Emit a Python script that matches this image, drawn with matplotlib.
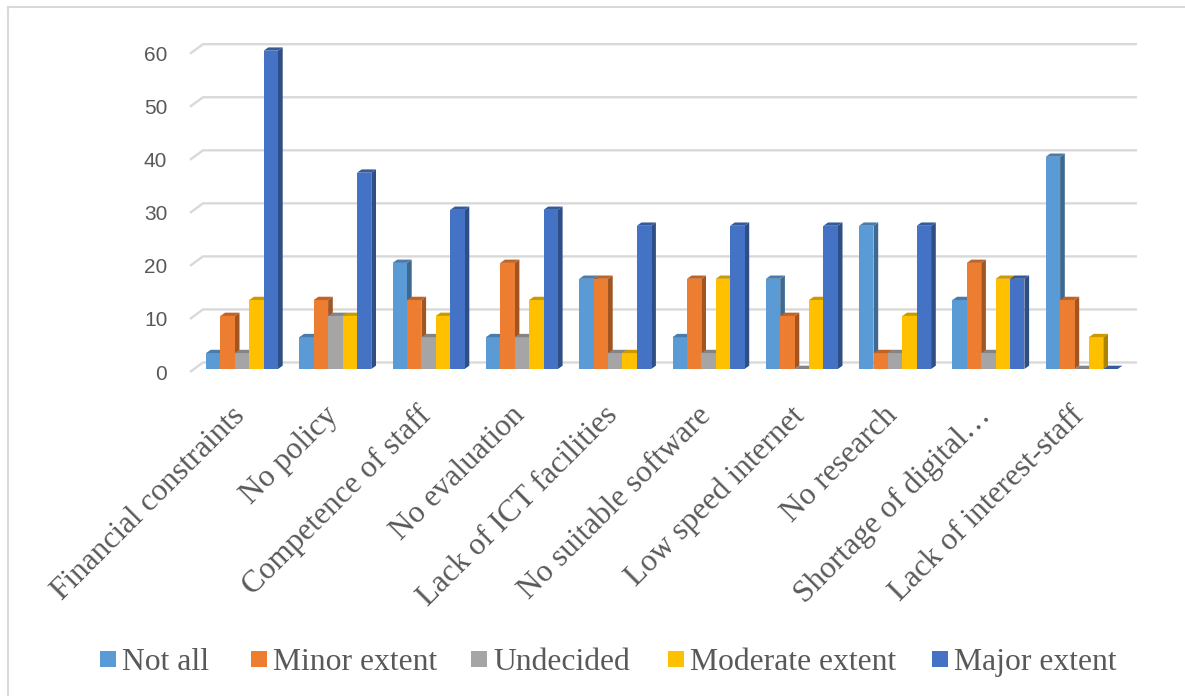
import matplotlib
matplotlib.use("Agg")
import matplotlib.pyplot as plt
from matplotlib.patches import Polygon, Rectangle
from matplotlib.lines import Line2D
from matplotlib.transforms import ScaledTranslation
import numpy as np

# ---- data -------------------------------------------------------------
categories = ["Financial constraints", "No policy", "Competence of staff",
              "No evaluation", "Lack of ICT facilities", "No suitable software",
              "Low speed internet", "No research", "Shortage of digital…",
              "Lack of interest-staff"]
series_names = ["Not all", "Minor extent", "Undecided", "Moderate extent",
                "Major extent"]
not_all = [3, 6, 20, 6, 17, 6, 17, 27, 13, 40]
minor_extent = [10, 13, 13, 20, 17, 17, 10, 3, 20, 13]
undecided = [3, 10, 6, 6, 3, 3, 0, 3, 3, 0]
moderate_extent = [13, 10, 10, 13, 3, 17, 13, 10, 17, 6]
major_extent = [60, 37, 30, 30, 27, 27, 27, 27, 17, 0]
y_ticks = [0, 10, 20, 30, 40, 50, 60]

series = [not_all, minor_extent, undecided, moderate_extent, major_extent]
colors = ["#5B9BD5", "#ED7D31", "#A5A5A5", "#FFC000", "#4472C4"]

# ---- layout (pixels) --------------------------------------------------
W, H, DPI = 1185, 696, 100
PX_CAT = 93.3        # pixels per category
PX_VAL = 5.305       # pixels per value unit
X0_PX = 242.0        # x pixel of the first category centre
Y0_PX = 369.0        # y pixel (from top) of value 0
xlim = (-0.8, 9.95)
ylim = (-5, 65)

left_px = X0_PX + xlim[0] * PX_CAT
width_px = (xlim[1] - xlim[0]) * PX_CAT
bottom_px = Y0_PX - ylim[0] * PX_VAL
top_px = Y0_PX - ylim[1] * PX_VAL

fig = plt.figure(figsize=(W / DPI, H / DPI), dpi=DPI)
fig.patch.set_facecolor("white")
ax = fig.add_axes([left_px / W, (H - bottom_px) / H,
                   width_px / W, (bottom_px - top_px) / H])
ax.set_xlim(*xlim)
ax.set_ylim(*ylim)
ax.set_facecolor("none")
for s in ax.spines.values():
    s.set_visible(False)

grid_color = "#D9D9D9"
text_color = "#595959"

# back-wall gridlines with a short slanted floor edge on the left
gx_front = (190 - X0_PX) / PX_CAT
gx_back = (203 - X0_PX) / PX_CAT
gx_right = (1137 - X0_PX) / PX_CAT
for v in y_ticks:
    ax.plot([gx_front, gx_back, gx_right],
            [v - 3 / PX_VAL, v + 6.5 / PX_VAL, v + 6.5 / PX_VAL],
            color=grid_color, lw=1.7, zorder=1, clip_on=False,
            solid_capstyle="butt", solid_joinstyle="miter")

# ---- 3-D style clustered columns -------------------------------------
n = len(series)
bw = 14.4 / PX_CAT
DX = 4.7 / PX_CAT
DY = 3.3 / PX_VAL
x = np.arange(len(categories))


def shade(c, f):
    rgb = np.array(matplotlib.colors.to_rgb(c))
    return tuple(rgb * f)


for j, (vals, c) in enumerate(zip(series, colors)):
    zf = 3 + j * 0.1
    bars = ax.bar(x + (j - (n - 1) / 2) * bw, vals, width=bw, color=c,
                  edgecolor="none", zorder=zf + 0.05, clip_on=False)
    for b in bars:
        bx, bwid, bh = b.get_x(), b.get_width(), b.get_height()
        xr = bx + bwid
        side = Polygon([(xr, 0), (xr + DX, DY), (xr + DX, bh + DY), (xr, bh)],
                       closed=True, facecolor=shade(c, 0.68),
                       edgecolor="none", zorder=zf, clip_on=False)
        top = Polygon([(bx, bh), (bx + DX, bh + DY), (xr + DX, bh + DY),
                       (xr, bh)],
                      closed=True, facecolor=shade(c, 0.8),
                      edgecolor="none", zorder=zf + 0.06, clip_on=False)
        ax.add_patch(side)
        ax.add_patch(top)

# ---- axes text --------------------------------------------------------
ax.set_yticks(y_ticks)
ax.set_yticklabels([str(t) for t in y_ticks], fontsize=15,
                   family=["Liberation Sans"], color=text_color)
ax.tick_params(axis="y", length=0, pad=0)
for lab in ax.get_yticklabels():
    lab.set_transform(lab.get_transform() +
                      ScaledTranslation(0, -3 / DPI, fig.dpi_scale_trans))

ax.set_xticks(x)
ax.set_xticklabels(categories, rotation=45, ha="right", va="top",
                   rotation_mode="anchor", fontsize=22.5,
                   family=["Liberation Serif"], color=text_color)
ax.tick_params(axis="x", length=0, pad=4)
for lab in ax.get_xticklabels():
    lab.set_transform(lab.get_transform() +
                      ScaledTranslation(-12 / DPI, 0, fig.dpi_scale_trans))

# ---- legend (one row of swatches and labels) --------------------------
legend_left_px = [100, 251, 471, 668, 932]
legend_y_px = 659
swatch_px = 16
for name, c, lx in zip(series_names, colors, legend_left_px):
    fig.add_artist(Rectangle((lx / W, 1 - (legend_y_px + swatch_px / 2) / H),
                             swatch_px / W, swatch_px / H,
                             transform=fig.transFigure, facecolor=c,
                             edgecolor="none"))
    fig.text((lx + swatch_px + 6) / W, 1 - legend_y_px / H, name,
             ha="left", va="center_baseline", color=text_color,
             family=["Liberation Serif"], fontsize=22.8)

# ---- chart-area border ------------------------------------------------
fig.add_artist(Line2D([8 / W, 8 / W], [0, 1 - 7 / H], transform=fig.transFigure,
                      color=grid_color, lw=1.5))
fig.add_artist(Line2D([8 / W, 1], [1 - 7 / H, 1 - 7 / H],
                      transform=fig.transFigure, color=grid_color, lw=1.5))

fig.savefig("out.png", dpi=DPI)
